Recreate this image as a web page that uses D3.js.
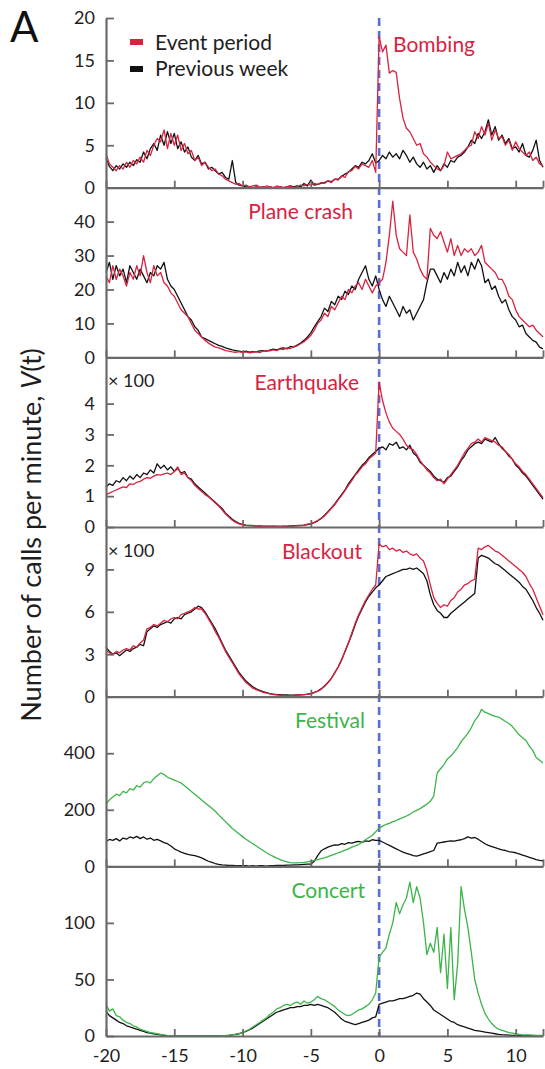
<!DOCTYPE html>
<html><head><meta charset="utf-8">
<script src="https://cdn.jsdelivr.net/npm/d3@7"></script>
<style>body{margin:0;background:#fff}svg{display:block}</style>
</head><body><svg id="c" width="545" height="1069"></svg>
<script>
// ---------------- DATA (time in hours, step 0.25 from -20 to 12) ----------------
const hourStart = -20, hourStep = 0.25;
const xTicks = [-20, -15, -10, -5, 0, 5, 10, 12];
const xTickLabels = ["-20", "-15", "-10", "-5", "0", "5", "10", ""];

const panelNames = ["Bombing", "Plane crash", "Earthquake", "Blackout", "Festival", "Concert"];
const panelMax = [20, 50, 5.5, 12, 600, 150];
const panelTicks = [[0,5,10,15,20],[0,10,20,30,40],[0,1,2,3,4],[0,3,6,9],[0,200,400],[0,50,100]];
const panelScaleNote = ["", "", "\u00d7 100", "\u00d7 100", "", ""];
const legendLabels = ["Event period", "Previous week"];

const bombingPrev = [3.5,2.5,2.0,2.6, 2.2,2.8,2.4,3.0, 2.6,3.3,3.0,4.2, 3.4,4.6,5.2,4.4, 6.2,5.0,6.6,5.2,
 6.4,4.6,5.4,4.2, 4.8,3.6,3.2,3.8, 2.8,3.0,2.2,2.4, 2.0,1.6,1.8,1.2, 1.0,3.2,0.6,0.3,
 0.2,0.1,0.1,0.0, 0.1,0.0,0.1,0.0, 0.1,0.0,0.0,0.1, 0.0,0.1,0.2,0.1, 0.2,0.1,0.5,0.2,
 0.9,0.3,0.4,0.5, 0.6,0.8,0.7,1.0, 1.0,1.3,1.6,1.8, 2.2,2.6,2.4,3.0, 2.8,3.2,4.0,2.9,
 3.2,3.8,3.4,4.2, 3.6,4.0,3.4,4.4, 3.8,3.0,3.6,2.8, 2.4,3.0,2.2,2.6, 1.8,2.6,2.0,2.8,
 2.4,3.2,3.0,3.6, 3.8,4.2,4.8,5.6, 5.2,6.4,5.8,6.6, 8.0,6.2,7.2,5.6, 6.2,5.2,5.8,4.6,
 4.8,4.2,5.2,3.8, 3.6,4.4,5.6,3.2, 2.4];
const bombingEvent = [4.0,2.8,2.4,2.0, 2.6,2.2,3.0,2.4, 3.2,2.8,3.6,3.0, 4.4,3.8,5.0,5.8, 5.4,6.8,4.6,6.4,
 5.0,6.2,4.4,5.2, 4.0,4.4,3.2,3.6, 2.6,3.0,2.4,2.0, 2.2,1.6,1.4,1.0, 0.8,0.6,0.4,0.5,
 0.2,0.3,0.1,0.2, 0.3,0.1,0.0,0.2, 0.1,0.0,0.2,0.1, 0.0,0.1,0.2,0.0, 0.1,0.3,0.2,0.4,
 0.3,0.5,0.4,0.6, 0.5,0.8,0.6,1.0, 0.9,1.4,1.2,1.9, 2.0,2.5,2.2,2.8, 2.6,2.4,3.2,1.8,
 17.8,16.0,16.8,13.5, 13.8,13.6,10.5,8.2, 7.0,6.6,5.8,5.0, 5.2,4.0,3.6,3.0, 2.6,2.2,2.0,2.6,
 4.2,3.4,3.6,3.8, 4.0,4.4,4.8,5.0, 6.6,5.8,7.2,6.2, 7.6,5.6,6.8,5.8, 6.0,5.0,5.6,4.4,
 5.4,4.6,4.2,3.8, 4.2,3.2,3.6,2.8, 2.6];

const planePrev = [25,28,23,27, 24,26,22,27, 25,23,26,24, 22,25,24,27, 26,28,23,21,
 20,18,16,14, 12,11,9,8, 6,5.5,5,4.5, 4,3.5,3.2,2.8, 2.5,2.2,2.0,1.8,
 1.6,1.8,1.5,1.7, 1.6,1.9,2.0,1.8, 2.1,2.4,2.2,2.6, 2.8,2.5,3.2,3.0, 3.6,4.2,5.0,6.0,
 7.2,9.0,10.5,12.0, 14.5,13.5,16.5,15.5, 18,17,19.5,18.5, 21,20,23,25, 27,23,21,24,
 20,17,15,18, 16,14,12,15, 13,14,11,13, 15,17,22,26, 26,24,22,25,
 23,26,24,28, 25,27,24,28, 26,29,27,22, 23,20,21,18, 16,17,14,12,
 11,9,9.5,7, 6,5,4.5,3, 2.5];
const planeEvent = [24,22,27,23, 26,24,21,25, 23,27,24,30, 25,22,27,24, 25,22,21,19,
 18,16,14,13, 12,10,8,7, 6,5,4.2,3.6, 3.0,2.8,2.4,2.0, 1.8,1.6,1.5,1.7,
 1.4,1.6,1.3,1.5, 1.7,1.4,1.8,2.0, 1.9,2.2,2.0,2.5, 2.3,2.8,2.6,3.2, 3.4,4.0,4.6,5.5,
 6.5,8.0,10.0,11.0, 13,12,15,14, 16,18,17,20, 19,21,22,20, 23,21,19,21,
 22,23,28,36, 46,36,32,31, 30,42,31,29, 26,24,23,38, 36,35,37,34,
 31,35,30,33, 30,32,31,32, 30,31,33,28, 27,26,25,23, 23,21,18,17,
 14,12,11,10, 9,9.5,8,7, 6];

const quakePrev = [1.30,1.40,1.35,1.50, 1.45,1.60,1.50,1.65, 1.55,1.70,1.60,1.75, 1.70,1.85,1.75,2.05, 1.90,2.00,1.85,1.95,
 1.80,1.90,1.75,1.80, 1.60,1.55,1.40,1.30, 1.20,1.10,1.00,0.90, 0.80,0.70,0.60,0.45, 0.35,0.25,0.18,0.12,
 0.08,0.06,0.05,0.04, 0.03,0.03,0.02,0.03, 0.02,0.03,0.02,0.02, 0.03,0.02,0.03,0.04, 0.04,0.05,0.06,0.08,
 0.10,0.14,0.20,0.28, 0.38,0.50,0.62,0.75, 0.90,1.05,1.20,1.40, 1.55,1.70,1.85,2.00, 2.10,2.25,2.35,2.45,
 2.55,2.60,2.50,2.70, 2.65,2.75,2.55,2.60, 2.50,2.65,2.40,2.30, 2.10,2.00,1.90,1.80, 1.65,1.55,1.50,1.45,
 1.60,1.65,1.80,1.95, 2.15,2.30,2.50,2.60, 2.70,2.75,2.70,2.85, 2.80,2.75,2.90,2.70, 2.55,2.45,2.30,2.20,
 2.00,1.90,1.75,1.65, 1.50,1.35,1.20,1.05, 0.90];
const quakeEvent = [1.05,1.10,1.15,1.20, 1.25,1.30,1.28,1.40, 1.38,1.45,1.48,1.55, 1.60,1.58,1.65,1.70, 1.68,1.72,1.75,1.70,
 1.80,1.95,1.70,1.75, 1.60,1.50,1.35,1.25, 1.15,1.05,0.98,0.88, 0.78,0.68,0.56,0.42, 0.32,0.22,0.15,0.10,
 0.07,0.05,0.04,0.05, 0.03,0.04,0.03,0.02, 0.03,0.02,0.03,0.02, 0.02,0.03,0.04,0.03, 0.05,0.04,0.06,0.09,
 0.11,0.15,0.21,0.27, 0.36,0.48,0.60,0.72, 0.88,1.02,1.18,1.35, 1.50,1.68,1.80,1.95, 2.05,2.20,2.30,2.40,
 4.70,4.10,3.70,3.40, 3.20,3.10,3.00,2.85, 2.65,2.55,2.50,2.35, 2.15,2.00,1.85,1.75, 1.60,1.50,1.55,1.40,
 1.55,1.70,1.85,2.00, 2.20,2.40,2.55,2.70, 2.75,2.85,2.75,2.90, 2.85,2.80,2.75,2.65, 2.60,2.45,2.35,2.20,
 2.05,1.95,1.80,1.70, 1.55,1.40,1.25,1.10, 0.95];

const blackoutPrev = [3.5,3.2,3.0,3.1, 2.9,3.1,3.3,3.2, 3.4,3.5,3.7,3.6, 4.6,4.8,5.0,4.9, 5.1,5.2,5.3,5.2,
 5.5,5.6,5.5,5.8, 5.9,6.0,6.2,6.4, 6.3,6.0,5.6,5.2, 4.8,4.3,3.8,3.3, 2.9,2.5,2.1,1.7,
 1.4,1.1,0.9,0.7, 0.55,0.45,0.35,0.28, 0.22,0.18,0.15,0.14, 0.12,0.12,0.10,0.10, 0.12,0.12,0.14,0.18,
 0.22,0.30,0.40,0.55, 0.75,1.00,1.30,1.70, 2.10,2.60,3.20,3.80, 4.40,5.10,5.70,6.20, 6.70,7.10,7.40,7.70,
 7.90,8.20,8.50,8.60, 8.70,8.80,8.90,9.00, 9.00,9.10,9.00,9.10, 8.90,8.70,8.20,7.20, 6.50,6.10,5.90,5.60,
 5.60,5.90,6.10,6.30, 6.50,6.70,6.90,7.10, 7.30,9.80,10.00,9.90, 9.80,9.60,9.40,9.30, 9.10,8.90,8.70,8.50,
 8.30,8.10,7.80,7.60, 7.20,6.80,6.30,5.90, 5.40];
const blackoutEvent = [3.3,3.1,3.0,3.2, 3.1,3.3,3.4,3.3, 3.6,3.5,3.8,4.0, 4.8,4.9,5.1,5.0, 5.2,5.4,5.3,5.5,
 5.6,5.5,5.8,5.9, 6.0,6.1,6.3,6.2, 6.2,5.9,5.5,5.1, 4.6,4.2,3.7,3.2, 2.8,2.4,2.0,1.6,
 1.3,1.0,0.8,0.6, 0.5,0.4,0.3,0.25, 0.2,0.15,0.12,0.1, 0.1,0.08,0.08,0.1, 0.1,0.12,0.14,0.16,
 0.2,0.28,0.38,0.52, 0.72,0.98,1.28,1.68, 2.1,2.6,3.2,3.8, 4.5,5.2,5.8,6.3, 6.8,7.2,7.6,7.9,
 10.8,10.6,10.7,10.4, 10.5,10.3,10.4,10.2, 10.3,10.1,10.0,10.1, 9.8,9.6,8.9,7.9, 7.0,6.6,6.3,6.5,
 6.4,6.8,7.0,7.4, 7.6,7.9,8.0,8.2, 8.3,10.5,10.4,10.6, 10.7,10.5,10.3,10.2, 10.0,9.8,9.6,9.4,
 9.2,9.0,8.8,8.5, 8.0,7.6,7.0,6.4, 5.8];

const festivalPrev = [88,95,92,98, 90,100,96,104, 100,106,98,104, 96,100,92,95, 90,84,80,72,
 62,56,50,46, 42,40,38,34, 30,24,18,14, 10,7,5,4, 3,3,2,2,
 2,2,1,2, 1,2,2,1, 2,2,3,3, 3,4,4,5, 5,6,7,8,
 8,18,38,55, 62,68,72,76, 75,80,78,84, 82,86,88,85, 90,88,94,92,
 92,86,80,74, 68,62,56,50, 46,42,38,36, 40,44,48,52, 56,82,84,86,
 88,90,89,92, 94,98,104,100, 102,96,88,80, 74,70,66,62, 58,56,52,50,
 48,44,40,36, 32,28,24,21, 19];
const festivalEvent = [220,235,245,255, 250,265,260,275, 270,285,280,295, 300,295,310,320, 330,325,315,310,
 305,300,295,285, 275,265,255,245, 235,225,215,205, 195,182,170,158, 146,134,124,114,
 105,96,88,80, 72,64,56,48, 41,35,29,24, 19,16,13,12, 12,13,14,16,
 18,21,24,27, 30,34,39,43, 48,52,57,62, 68,72,77,85, 94,102,110,122,
 135,142,148,152, 158,162,168,172, 178,184,192,198, 204,212,220,230, 248,330,345,360,
 380,390,405,420, 440,455,470,490, 515,530,555,545, 540,535,530,528, 520,512,505,495,
 480,465,455,445, 425,410,385,375, 365];

const concertPrev = [22,18,16,14, 12,11,9,8, 7,6,5,4, 3,2.5,2,1.5, 1,0.6,0.3,0.2,
 0,0,0,0, 0,0,0,0, 0,0,0,0, 0,0,0.2,0.4, 0.6,1,1.4,2,
 3,4,5.5,7, 9,11,13,15, 17,19,21,22, 23,24,25,25, 26,26,27,27,
 28,27,28,27, 26,25,23,21, 18,15,13,12, 11,10,11,12, 13,14,16,17,
 28,29,30,31, 31,32,33,33, 34,35,36,38, 37,33,30,27, 23,21,19,17,
 15,13,12,10, 9,8,7,6, 5,4.5,4,3.5, 3,2.5,2,1.5, 1.2,1,0.8,0.6,
 0.5,0.4,0.3,0.3, 0.2,0.2,0.1,0.1, 0];
const concertEvent = [28,22,24,18, 17,14,12,11, 9,8,6,5, 4,3,2.5,2, 1.5,1,0.5,0.3,
 0.2,0,0,0, 0,0,0,0, 0,0,0,0, 0,0.2,0.3,0.5, 0.8,1.2,1.6,2.2,
 3,4.5,6,8, 10,12,14,16, 19,21,24,25, 27,28,27,29, 30,28,31,29,
 30,32,35,33, 32,30,28,26, 23,21,19,18, 19,21,23,24, 26,28,32,38,
 70,74,78,90, 100,118,108,116, 122,136,118,132, 122,100,72,82, 74,96,56,90,
 42,96,32,64, 132,112,96,74, 50,38,28,20, 15,11,8,6, 5,4,3,2.5,
 2,1.5,1,1, 1,0.8,0.5,0.5, 0.5];

const eventSeries = [bombingEvent, planeEvent, quakeEvent, blackoutEvent, festivalEvent, concertEvent];
const prevSeries = [bombingPrev, planePrev, quakePrev, blackoutPrev, festivalPrev, concertPrev];

// ---------------- DRAWING ----------------
const RED = "#d7233f", GREEN = "#3cb44a", BLUE = "#5b6dcf", AXIS = "#6a6a6a", TXT = "#1e1e1e";
const eventColors = [RED, RED, RED, RED, GREEN, GREEN];
const FONT = "Lato, 'Open Sans', sans-serif";

const svg = d3.select("#c");
const left = 106, right = 543, top0 = 18, bottom0 = 1036;
const x = d3.scaleLinear().domain([-20, 12]).range([left, right]);
const panelH = (bottom0 - top0) / 6;
const hourAt = i => hourStart + i * hourStep;

// zero-event dashed line
svg.append("line")
  .attr("x1", x(0)).attr("x2", x(0))
  .attr("y1", top0).attr("y2", bottom0)
  .attr("stroke", BLUE).attr("stroke-width", 2.6)
  .attr("stroke-dasharray", "8,5");

panelNames.forEach((name, p) => {
  const pt = top0 + p * panelH, pb = pt + panelH;
  const y = d3.scaleLinear().domain([0, panelMax[p]]).range([pb, pt]);
  const g = svg.append("g");

  const line = d3.line().x((d, i) => x(hourAt(i))).y(d => y(d));
  g.append("path").datum(prevSeries[p]).attr("d", line)
    .attr("fill", "none").attr("stroke", "#111").attr("stroke-width", 1.3).attr("stroke-linejoin", "round");
  g.append("path").datum(eventSeries[p]).attr("d", line)
    .attr("fill", "none").attr("stroke", eventColors[p]).attr("stroke-width", 1.3).attr("stroke-linejoin", "round");

  // y axis
  const ya = g.append("g").attr("transform", `translate(${left},0)`)
    .call(d3.axisLeft(y).tickValues(panelTicks[p]).tickFormat(d => String(d))
      .tickSizeInner(-8).tickSizeOuter(0).tickPadding(11));
  ya.select(".domain").attr("stroke", AXIS).attr("stroke-width", 2.2);
  ya.selectAll(".tick line").attr("stroke", AXIS).attr("stroke-width", 1.8);
  ya.selectAll(".tick text").attr("font-family", FONT).attr("font-size", 18).attr("fill", TXT);

  // x axis (bottom of each panel)
  const last = p === panelNames.length - 1;
  const xa = g.append("g").attr("transform", `translate(0,${pb})`)
    .call(d3.axisBottom(x).tickValues(xTicks).tickSizeInner(-7).tickSizeOuter(0).tickPadding(13)
      .tickFormat((d, i) => last ? xTickLabels[i] : ""));
  xa.select(".domain").attr("stroke", AXIS).attr("stroke-width", 2.2);
  xa.selectAll(".tick line").attr("stroke", AXIS).attr("stroke-width", 1.8);
  xa.selectAll(".tick text").attr("font-family", FONT).attr("font-size", 18).attr("fill", TXT);

  // panel label
  const labelPos = [[393, 52, "start"], [353, 219, "end"], [359, 390, "end"], [362, 559, "end"], [365, 728, "end"], [365, 898, "end"]][p];
  g.append("text").attr("x", labelPos[0]).attr("y", labelPos[1]).attr("text-anchor", labelPos[2])
    .attr("font-family", FONT).attr("font-size", 21).attr("fill", eventColors[p]).text(name);

  if (panelScaleNote[p]) {
    g.append("text").attr("x", 108).attr("y", pt + 30).attr("font-family", FONT)
      .attr("font-size", 18).attr("fill", TXT).text(panelScaleNote[p]);
  }
});

// legend
const legendColors = [RED, "#111"];
legendLabels.forEach((t, i) => {
  svg.append("rect").attr("x", 130).attr("y", 39 + i * 27).attr("width", 13).attr("height", 6).attr("fill", legendColors[i]);
  svg.append("text").attr("x", 155).attr("y", 50 + i * 26).attr("font-family", FONT)
    .attr("font-size", 21).attr("fill", TXT).text(t);
});

// panel letter
svg.append("text").attr("x", 10).attr("y", 42).attr("font-family", FONT)
  .attr("font-size", 42).attr("fill", "#111").text("A");

// y label
const yl = svg.append("text").attr("transform", "translate(41,535) rotate(-90)")
  .attr("text-anchor", "middle").attr("font-family", FONT).attr("font-size", 27).attr("fill", TXT);
yl.append("tspan").text("Number of calls per minute, ");
yl.append("tspan").attr("font-style", "italic").text("V");
yl.append("tspan").text("(t)");
</script>
</body></html>
